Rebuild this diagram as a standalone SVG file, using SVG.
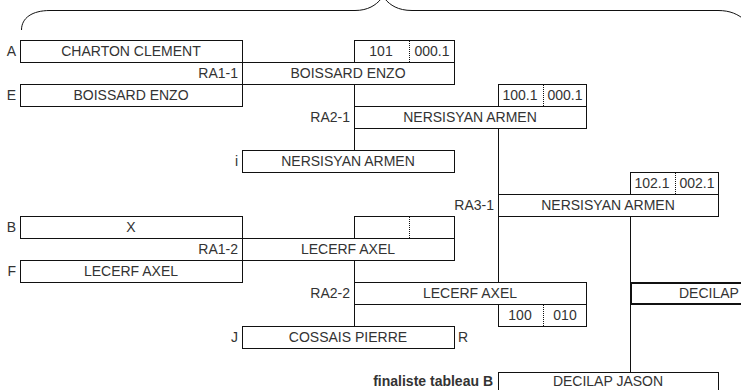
<svg xmlns="http://www.w3.org/2000/svg" width="741" height="390" viewBox="0 0 741 390">
<style>
  .b{fill:none;stroke:#111;stroke-width:1}
  .bt{fill:none;stroke:#111;stroke-width:2}
  .d{stroke:#111;stroke-width:1;stroke-dasharray:1,1}
  .c{stroke:#111;stroke-width:1;fill:none}
  text{font-family:"Liberation Sans",Arial,sans-serif;font-size:14px;fill:#333}
  .m{text-anchor:middle}
  .e{text-anchor:end}
  .bold{font-weight:bold}
</style>
<rect width="741" height="390" fill="#fff"/>
<g id="brace" class="c">
  <path d="M21.5,30 C21.5,18 32,10.5 50,10.5 L355,10.5 C368,10.5 376,5 381,-1"/>
  <path d="M385,-1 C390,5 398,10.5 412,10.5 L718,10.5 C730,10.5 738,14 746,21"/>
</g>
<g id="connectors" class="c">
  <line x1="354.5" y1="84" x2="354.5" y2="150"/>
  <line x1="498.5" y1="128" x2="498.5" y2="282"/>
  <line x1="354.5" y1="260" x2="354.5" y2="326"/>
  <line x1="630.5" y1="216" x2="630.5" y2="372"/>
</g>
<g id="nA">
  <rect class="b" x="20.5" y="40.5" width="222" height="22"/>
  <text class="e" x="16" y="56">A</text>
  <text class="m" x="131" y="56">CHARTON CLEMENT</text>
</g>
<g id="nE">
  <rect class="b" x="20.5" y="84.5" width="222" height="22"/>
  <text class="e" x="16" y="100">E</text>
  <text class="m" x="131" y="100">BOISSARD ENZO</text>
</g>
<g id="mRA1-1">
  <rect class="b" x="354.5" y="40.5" width="100" height="22"/>
  <line class="d" x1="409.5" y1="41" x2="409.5" y2="62"/>
  <text class="m" x="381" y="56">101</text>
  <text class="m" x="432" y="56">000.1</text>
  <rect class="b" x="242.5" y="62.5" width="212" height="22"/>
  <text class="e" x="238" y="78">RA1-1</text>
  <text class="m" x="348" y="78">BOISSARD ENZO</text>
</g>
<g id="mRA2-1">
  <rect class="b" x="498.5" y="84.5" width="88" height="22"/>
  <line class="d" x1="543.5" y1="85" x2="543.5" y2="106"/>
  <text class="m" x="520" y="100">100.1</text>
  <text class="m" x="565" y="100">000.1</text>
  <rect class="b" x="354.5" y="106.5" width="232" height="22"/>
  <text class="e" x="350" y="122">RA2-1</text>
  <text class="m" x="470" y="122">NERSISYAN ARMEN</text>
</g>
<g id="nI">
  <rect class="b" x="242.5" y="150.5" width="212" height="22"/>
  <text class="e" x="238" y="166">i</text>
  <text class="m" x="348" y="166">NERSISYAN ARMEN</text>
</g>
<g id="mRA3-1">
  <rect class="b" x="630.5" y="172.5" width="88" height="22"/>
  <line class="d" x1="675.5" y1="173" x2="675.5" y2="194"/>
  <text class="m" x="652" y="188">102.1</text>
  <text class="m" x="697" y="188">002.1</text>
  <rect class="b" x="498.5" y="194.5" width="220" height="22"/>
  <text class="e" x="494" y="210">RA3-1</text>
  <text class="m" x="608" y="210">NERSISYAN ARMEN</text>
</g>
<g id="nB">
  <rect class="b" x="20.5" y="216.5" width="222" height="22"/>
  <text class="e" x="16" y="232">B</text>
  <text class="m" x="131" y="232">X</text>
</g>
<g id="mRA1-2">
  <rect class="b" x="354.5" y="216.5" width="100" height="22"/>
  <line class="d" x1="409.5" y1="217" x2="409.5" y2="238"/>
  <rect class="b" x="242.5" y="238.5" width="212" height="22"/>
  <text class="e" x="238" y="254">RA1-2</text>
  <text class="m" x="348" y="254">LECERF AXEL</text>
</g>
<g id="nF">
  <rect class="b" x="20.5" y="260.5" width="222" height="22"/>
  <text class="e" x="16" y="276">F</text>
  <text class="m" x="131" y="276">LECERF AXEL</text>
</g>
<g id="mRA2-2">
  <rect class="b" x="354.5" y="282.5" width="232" height="22"/>
  <text class="e" x="350" y="298">RA2-2</text>
  <text class="m" x="470" y="298">LECERF AXEL</text>
  <rect class="b" x="498.5" y="304.5" width="88" height="22"/>
  <line class="d" x1="543.5" y1="305" x2="543.5" y2="326"/>
  <text class="m" x="520" y="320">100</text>
  <text class="m" x="565" y="320">010</text>
</g>
<g id="nJ">
  <rect class="b" x="242.5" y="326.5" width="212" height="22"/>
  <text class="e" x="238" y="342">J</text>
  <text x="458" y="342">R</text>
  <text class="m" x="348" y="342">COSSAIS PIERRE</text>
</g>
<g id="nDecilap">
  <rect class="bt" x="631" y="283" width="130" height="21"/>
  <text x="679" y="298">DECILAP</text>
</g>
<g id="nFinal">
  <rect class="b" x="498.5" y="372.5" width="220" height="30"/>
  <text class="e bold" x="493" y="386">finaliste tableau B</text>
  <text class="m" x="608" y="386">DECILAP JASON</text>
</g>
</svg>
